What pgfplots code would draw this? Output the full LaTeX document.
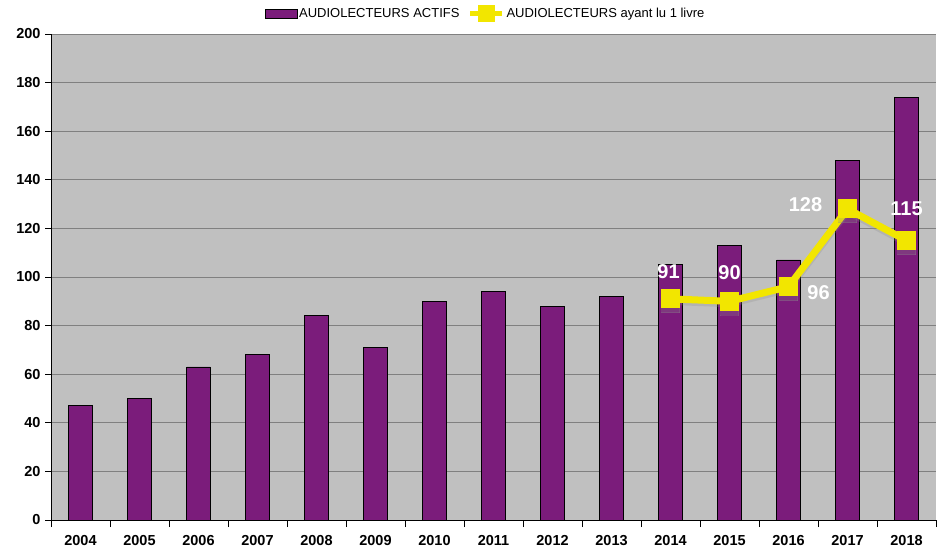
\documentclass[border=0pt]{standalone}
\usepackage{pgfplots}
\pgfplotsset{compat=1.18}
\usepackage{fontspec}
\setmainfont{Liberation Sans}
\definecolor{barpurple}{HTML}{7B1C7B}
\definecolor{plotbg}{HTML}{C0C0C0}
\definecolor{gridgray}{HTML}{808080}
\definecolor{lineyellow}{HTML}{F2E600}

\pgfplotstableread{
x year actifs
0 2004 47
1 2005 50
2 2006 63
3 2007 68
4 2008 84
5 2009 71
6 2010 90
7 2011 94
8 2012 88
9 2013 92
10 2014 105
11 2015 113
12 2016 107
13 2017 148
14 2018 174
}\actifs

\pgfplotstableread{
x livre
10 91
11 90
12 96
13 128
14 115
}\livre

\begin{document}
\begin{tikzpicture}
\begin{axis}[
  at={(0pt,0pt)}, anchor=south west,
  scale only axis,
  width=885pt, height=486pt,
  xmin=-0.5, xmax=14.5,
  ymin=0, ymax=200,
  ytick={0,20,...,200},
  xtick={0,...,14},
  xticklabels={2004,2005,2006,2007,2008,2009,2010,2011,2012,2013,2014,2015,2016,2017,2018},
  minor xtick={-0.5,0.5,...,14.5},
  major x tick style={draw=none},
  minor x tick style={black, line width=0.8pt},
  y tick style={black, line width=0.8pt},
  tick align=outside,
  major tick length=6pt, minor tick length=7pt,
  axis x line*=bottom, axis y line*=left,
  axis line style={black, line width=0.9pt},
  axis background/.style={fill=plotbg},
  ymajorgrids, grid style={gridgray, line width=0.9pt},
  tick label style={font=\fontsize{14.5}{16}\selectfont\bfseries},
  /pgf/number format/assume math mode=true,
  xticklabel style={yshift=-6pt},
  yticklabel style={xshift=-1pt},
  legend style={at={(0.5,1)}, anchor=south, yshift=10pt, xshift=-8pt, draw=none, fill=none,
    font=\fontsize{13}{15}\selectfont, legend columns=2,
    /tikz/every even column/.style={column sep=6pt}},
  clip=false,
]
\addplot[ybar, bar width=23.5pt, fill=barpurple, draw=black, line width=0.8pt,
  legend image code/.code={\draw[fill=barpurple, draw=black, line width=0.6pt] (0pt,-4.5pt) rectangle (32pt,4.5pt);}]
  table[x=x, y=actifs] {\actifs};
\addlegendentry{AUDIOLECTEURS ACTIFS}
\addplot[forget plot, color=black!45, opacity=0.25, line width=7pt, mark=square*, mark size=9pt,
  mark options={line width=0pt},
  transform canvas={yshift=-2.5pt}]
  table[x=x, y=livre] {\livre};
\addplot[color=lineyellow, line width=7pt, mark=square*, mark size=9pt,
  mark options={fill=lineyellow, draw=lineyellow, line width=0pt},
  legend image code/.code={\draw[lineyellow, line width=5pt] (0pt,0pt) -- (32pt,0pt);
    \fill[lineyellow] (11pt,-5pt) rectangle (21pt,5pt);}]
  table[x=x, y=livre] {\livre};
\addlegendentry{AUDIOLECTEURS ayant lu 1 livre}
\begin{scope}[every node/.style={text=white, font=\fontsize{20}{22}\selectfont\bfseries}]
\node at (axis cs:10,91) [yshift=27pt, xshift=-2pt] {91};
\node at (axis cs:11,90) [yshift=29pt] {90};
\node at (axis cs:12,96) [xshift=30pt, yshift=-6pt] {96};
\node at (axis cs:13,128) [xshift=-42pt, yshift=4pt] {128};
\node at (axis cs:14,115) [yshift=32pt] {115};
\end{scope}
\end{axis}
\path (-51pt,-30pt) rectangle (886pt,520pt);
\end{tikzpicture}
\end{document}
